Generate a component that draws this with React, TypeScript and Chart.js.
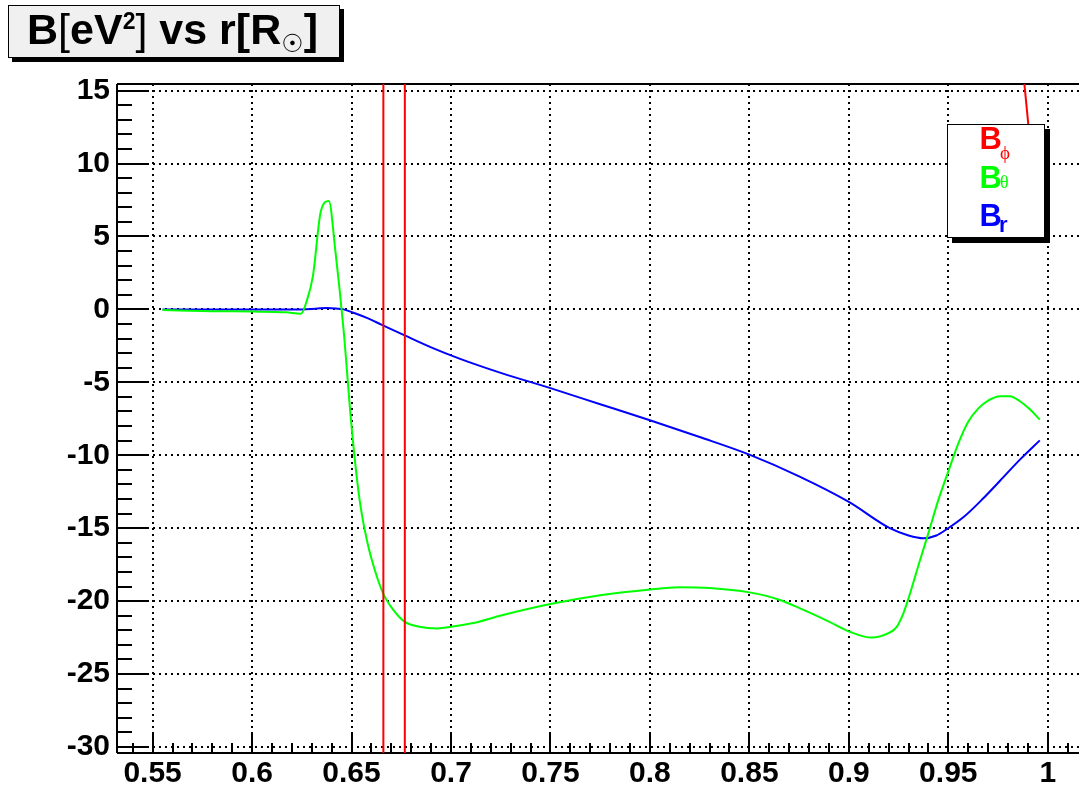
import React, { useEffect, useRef } from "react";
import { Chart, registerables } from "chart.js";

Chart.register(...registerables);

// ---- data ----
const rPhi = [0.555, 0.6, 0.63, 0.655, 0.6655, 0.6665, 0.6763, 0.6773, 0.72, 0.8, 0.9, 0.95, 0.985, 0.996];
const bPhi = [150, 260, 500, 1500, 3000, -3000, -3000, 3000, 2500, 1200, 400, 150, 20.0, 4.57];

const rTheta = [
  0.555, 0.58, 0.6, 0.617, 0.6246, 0.6277, 0.6306, 0.6346, 0.6386, 0.6418, 0.646,
  0.65, 0.654, 0.658, 0.662, 0.666, 0.671, 0.6766, 0.684, 0.693, 0.7, 0.7113, 0.7247,
  0.75, 0.775, 0.8, 0.815, 0.83, 0.85, 0.865, 0.8755, 0.89, 0.9005, 0.9115, 0.9199,
  0.9241, 0.9274, 0.9308, 0.9333, 0.9358, 0.94, 0.945, 0.9508, 0.955, 0.96, 0.965,
  0.97, 0.976, 0.981, 0.986, 0.991, 0.996,
];
const bTheta = [
  -0.05, -0.12, -0.15, -0.2, -0.3, 0.68, 2.3, 6.75, 7.43, 4.1, -1.4,
  -8.0, -13.0, -16.0, -18.0, -19.5, -20.6, -21.4, -21.75, -21.87, -21.76, -21.5, -21.0,
  -20.2, -19.6, -19.2, -19.05, -19.1, -19.4, -19.9, -20.5, -21.4, -22.1, -22.5, -22.2,
  -21.76, -20.84, -19.46, -18.32, -17.18, -15.34, -13.06, -10.8, -9.2, -7.7, -6.8,
  -6.25, -5.95, -5.95, -6.3, -6.85, -7.56,
];

const rR = [
  0.555, 0.6, 0.625, 0.632, 0.638, 0.643, 0.646, 0.651, 0.658, 0.665, 0.677, 0.69,
  0.7046, 0.725, 0.75, 0.775, 0.8, 0.825, 0.85, 0.875, 0.9, 0.9206, 0.93, 0.9375,
  0.944, 0.9492, 0.958, 0.9676, 0.976, 0.986, 0.996,
];
const bR = [
  0.0, 0.0, 0.0, 0.05, 0.1, 0.05, 0.0, -0.23, -0.6, -1.04, -1.8, -2.6,
  -3.39, -4.35, -5.4, -6.5, -7.6, -8.75, -9.96, -11.45, -13.2, -15.0, -15.5, -15.69,
  -15.5, -15.07, -14.2, -12.95, -11.75, -10.3, -8.98,
];

const X_MIN = 0.5321;
const X_MAX = 1.0157;
const Y_MIN = -30.41;
const Y_MAX = 15.45;
const X_STEP = 0.05;
const Y_STEP = 5;

const toPts = (xs: number[], ys: number[]) => xs.map((x, i) => ({ x, y: ys[i] }));

const framePlugin = {
  id: "rootFrame",
  beforeDatasetsDraw(chart: any) {
    const { ctx, chartArea: a, scales } = chart;
    const x = scales.x;
    const y = scales.y;
    const line = (x1: number, y1: number, x2: number, y2: number) => {
      ctx.beginPath();
      ctx.moveTo(x1, y1);
      ctx.lineTo(x2, y2);
      ctx.stroke();
    };
    ctx.save();
    ctx.strokeStyle = "#000";
    // dotted grid
    ctx.lineWidth = 2;
    ctx.setLineDash([2, 4]);
    y.ticks.forEach((t: any) => {
      const py = Math.round(y.getPixelForValue(t.value));
      line(a.left, py, a.right, py);
    });
    x.ticks.forEach((t: any) => {
      const px = Math.round(x.getPixelForValue(t.value));
      line(px, a.top, px, a.bottom);
    });
    ctx.setLineDash([]);
    // tick marks (inside the frame)
    ctx.lineWidth = 2;
    for (let v = Math.ceil(Y_MIN); v <= Math.floor(Y_MAX); v++) {
      const py = Math.round(y.getPixelForValue(v));
      const len = v % 5 === 0 ? 30 : 15;
      line(a.left, py, a.left + len, py);
    }
    for (let k = Math.ceil(X_MIN * 100); k <= Math.floor(X_MAX * 100); k++) {
      const px = Math.round(x.getPixelForValue(k / 100));
      const len = k % 5 === 0 ? 20 : 10;
      line(px, a.bottom, px, a.bottom - len);
    }
    // frame
    ctx.lineWidth = 2;
    line(a.left, a.top, a.right, a.top);
    line(a.left, a.top, a.left, a.bottom);
    line(a.left, a.bottom, a.right, a.bottom);
    ctx.restore();
  },
};

const tickFont = { family: "'Liberation Sans', Arial, sans-serif", weight: "bold" as const, size: 30 };

export default function App() {
  const ref = useRef<HTMLCanvasElement | null>(null);

  useEffect(() => {
    if (!ref.current) return;
    const chart = new Chart(ref.current, {
      type: "line",
      data: {
        datasets: [
          {
            label: "B_phi",
            data: toPts(rPhi, bPhi),
            borderColor: "#ff0000",
            borderWidth: 2,
            pointRadius: 0,
            tension: 0,
            fill: false,
          },
          {
            label: "B_theta",
            data: toPts(rTheta, bTheta),
            borderColor: "#00ff00",
            borderWidth: 2,
            pointRadius: 0,
            cubicInterpolationMode: "monotone",
            fill: false,
          },
          {
            label: "B_r",
            data: toPts(rR, bR),
            borderColor: "#0000ff",
            borderWidth: 2,
            pointRadius: 0,
            cubicInterpolationMode: "monotone",
            fill: false,
          },
        ],
      },
      options: {
        animation: false,
        responsive: false,
        devicePixelRatio: 1,
        layout: { padding: { top: 84, left: 0, right: 0, bottom: 0 } },
        plugins: {
          legend: { display: false },
          tooltip: { enabled: false },
          title: { display: false },
        },
        scales: {
          x: {
            type: "linear",
            min: X_MIN,
            max: X_MAX,
            grid: { display: false, drawTicks: false },
            border: { display: false },
            afterFit: (s: any) => {
              s.height = 39;
              s.paddingLeft = 0;
              s.paddingRight = 0;
            },
            ticks: {
              stepSize: X_STEP,
              includeBounds: false,
              autoSkip: false,
              maxRotation: 0,
              maxTicksLimit: 100,
              padding: 3,
              color: "#000",
              font: tickFont,
              callback: (v: any) => String(Number(Number(v).toFixed(2))),
            },
          },
          y: {
            type: "linear",
            min: Y_MIN,
            max: Y_MAX,
            grid: { display: false, drawTicks: false },
            border: { display: false },
            afterFit: (s: any) => {
              s.width = 117;
              s.paddingTop = 0;
              s.paddingBottom = 0;
            },
            ticks: {
              stepSize: Y_STEP,
              includeBounds: false,
              autoSkip: false,
              maxTicksLimit: 100,
              padding: 7,
              color: "#000",
              font: tickFont,
              callback: (v: any) => String(Number(Number(v).toFixed(2))),
            },
          },
        },
      },
      plugins: [framePlugin],
    });
    return () => chart.destroy();
  }, []);

  const sans = "'Liberation Sans', Arial, sans-serif";
  const serif = "'Liberation Serif', 'DejaVu Serif', serif";

  return (
    <div style={{ position: "fixed", left: 0, top: 0, width: 1079, height: 792, overflow: "hidden", background: "#fff" }}>
      <canvas ref={ref} width={1079} height={792} style={{ position: "absolute", left: 0, top: 0, display: "block" }} />
      {/* title box */}
      <div
        style={{
          position: "absolute",
          left: 8,
          top: 5,
          width: 332,
          height: 53,
          boxSizing: "border-box",
          background: "#f0f0f0",
          border: "1px solid #000",
          boxShadow: "4px 4px 0 #000",
          fontFamily: sans,
          fontWeight: "bold",
          fontSize: 43,
          lineHeight: "47px",
          paddingLeft: 18,
          whiteSpace: "nowrap",
          color: "#000",
        }}
      >
        B<span style={{ fontWeight: "normal" }}>[</span>eV
        <span style={{ fontSize: 23, position: "relative", top: -15 }}>2</span>
        <span style={{ fontWeight: "normal" }}>]</span> vs r[R
        <span style={{ fontFamily: "'DejaVu Sans', sans-serif", fontWeight: "normal", fontSize: 25, position: "relative", top: 8 }}>☉</span>]
      </div>
      {/* legend box */}
      <div
        style={{
          position: "absolute",
          left: 947,
          top: 124,
          width: 98,
          height: 114,
          boxSizing: "border-box",
          background: "#fff",
          border: "1px solid #000",
          boxShadow: "5px 5px 0 #000",
        }}
      />
      <div style={{ position: "absolute", left: 979.4, top: 123, fontFamily: sans, fontWeight: "bold", fontSize: 31, lineHeight: "31px", color: "#ff0000" }}>B</div>
      <div style={{ position: "absolute", left: 1000, top: 142.6, fontFamily: serif, fontSize: 19, lineHeight: "19px", color: "#ff0000" }}>ϕ</div>
      <div style={{ position: "absolute", left: 979.4, top: 161.7, fontFamily: sans, fontWeight: "bold", fontSize: 31, lineHeight: "31px", color: "#00ff00" }}>B</div>
      <div style={{ position: "absolute", left: 1000, top: 173.2, fontFamily: serif, fontSize: 18, lineHeight: "18px", color: "#00ff00" }}>θ</div>
      <div style={{ position: "absolute", left: 979.4, top: 200.4, fontFamily: sans, fontWeight: "bold", fontSize: 31, lineHeight: "31px", color: "#0000ff" }}>B</div>
      <div style={{ position: "absolute", left: 999, top: 214, fontFamily: sans, fontWeight: "bold", fontSize: 22, lineHeight: "22px", color: "#0000ff" }}>r</div>
    </div>
  );
}
